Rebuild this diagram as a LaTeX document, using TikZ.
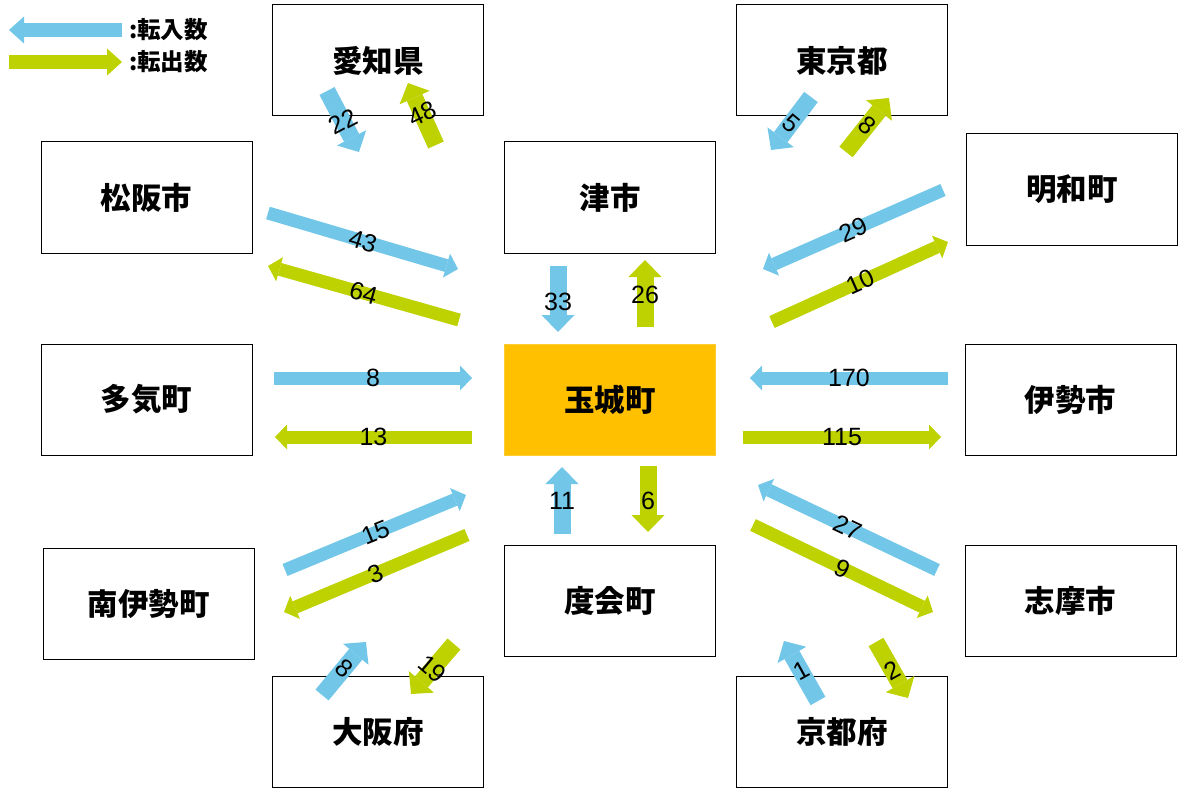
\documentclass[tikz,border=0pt]{standalone}
\usepackage{fontspec}
\setmainfont{Liberation Sans}
\newfontfamily\jpfont{Noto Sans CJK JP}
\usetikzlibrary{arrows.meta}
\definecolor{cin}{RGB}{114,198,232}
\definecolor{cout}{RGB}{189,210,0}
\definecolor{corange}{RGB}{255,192,0}
\tikzset{
  box/.style={draw=black, line width=1pt, minimum width=211pt, minimum height=111pt, inner sep=0pt,
    font=\jpfont\bfseries\fontsize{30.5}{33}\selectfont},
  center/.style={box, draw=corange!80!white, line width=1pt, fill=corange},
  sarr/.style={line width=17pt, -{Triangle[length=17pt,width=33pt,line width=0pt]}},
  darr/.style={line width=17pt, -{Triangle[length=16pt,width=33pt,line width=0pt]}},
  larr/.style={line width=13pt, -{Triangle[length=12pt,width=25pt,line width=0pt]}},
  garr/.style={line width=14pt, -{Triangle[length=15pt,width=27pt,line width=0pt]}},
  inc/.style={draw=cin},
  outc/.style={draw=cout},
  num/.style={inner sep=0pt, text=black, font=\fontsize{25}{28}\selectfont},
  legtext/.style={anchor=west, inner sep=0pt, font=\jpfont\bfseries\fontsize{23.5}{26}\selectfont}
}
\begin{document}
\begin{tikzpicture}[x=1pt,y=-1pt]
\useasboundingbox (0,0) rectangle (1179,789);
% boxes
\node[box] (aichi) at (378,60.5) {愛知県};
\node[box] (tokyo) at (842,60.5) {東京都};
\node[box] (matsusaka) at (146.5,197.5) {松阪市};
\node[box] (tsu) at (610,197.5) {津市};
\node[box] (meiwa) at (1072,189.5) {明和町};
\node[box] (taki) at (146.5,399.5) {多気町};
\node[center] (tamaki) at (610,399.5) {玉城町};
\node[box] (ise) at (1070.5,399.5) {伊勢市};
\node[box] (minamiise) at (148.5,603.5) {南伊勢町};
\node[box] (watarai) at (610,601) {度会町};
\node[box] (shima) at (1070.5,601) {志摩市};
\node[box] (osaka) at (378,731.5) {大阪府};
\node[box] (kyoto) at (842,731.5) {京都府};
% legend
\coordinate (legInT) at (122,30); \coordinate (legInH) at (9,30);
\coordinate (legOutT) at (9,62); \coordinate (legOutH) at (122,62);
\draw[garr,inc] (legInT) -- (legInH);
\draw[garr,outc] (legOutT) -- (legOutH);
\node[legtext] (legIn) at (129,30) {:転入数};
\node[legtext] (legOut) at (129,62) {:転出数};
% coordinates of arrows
\coordinate (aiT) at (327,91);  \coordinate (aiH) at (359,152);
\coordinate (aoT) at (436,145); \coordinate (aoH) at (408,83);
\coordinate (toiT) at (811,97); \coordinate (toiH) at (771,150);
\coordinate (tooT) at (846,152); \coordinate (tooH) at (889,98);
\coordinate (miT) at (268,213); \coordinate (miH) at (458,269);
\coordinate (moT) at (459,320); \coordinate (moH) at (268,266);
\coordinate (tsiT) at (558,266); \coordinate (tsiH) at (558,332);
\coordinate (tsoT) at (645,327); \coordinate (tsoH) at (645,260);
\coordinate (meiT) at (943,190); \coordinate (meiH) at (763,269);
\coordinate (meoT) at (772,322); \coordinate (meoH) at (948,242);
\coordinate (taiT) at (274,378); \coordinate (taiH) at (472,378);
\coordinate (taoT) at (472,437); \coordinate (taoH) at (275,437);
\coordinate (iiT) at (948,378); \coordinate (iiH) at (750,378);
\coordinate (ioT) at (743,437); \coordinate (ioH) at (941,437);
\coordinate (miniT) at (285,570); \coordinate (miniH) at (466,495);
\coordinate (minoT) at (467,535); \coordinate (minoH) at (284,612);
\coordinate (wiT) at (562,534); \coordinate (wiH) at (562,467);
\coordinate (woT) at (648,466); \coordinate (woH) at (648,532);
\coordinate (siT) at (937,570); \coordinate (siH) at (758,485);
\coordinate (soT) at (753,525); \coordinate (soH) at (933,612);
\coordinate (oiT) at (322,695); \coordinate (oiH) at (366,642);
\coordinate (ooT) at (454,644); \coordinate (ooH) at (411,694);
\coordinate (kiT) at (818,701); \coordinate (kiH) at (784,641);
\coordinate (koT) at (876,642); \coordinate (koH) at (908,698);
% arrows
\draw[darr,inc] (aiT) -- (aiH) node[num,midway,rotate=28] {22};
\draw[darr,outc] (aoT) -- (aoH) node[num,midway,rotate=25] {48};
\draw[darr,inc] (toiT) -- (toiH) node[num,midway,rotate=-40] {5};
\draw[darr,outc] (tooT) -- (tooH) node[num,midway,rotate=-40] {8};
\draw[larr,inc] (miT) -- (miH) node[num,midway,rotate=-17] {43};
\draw[larr,outc] (moT) -- (moH) node[num,midway,rotate=-16] {64};
\draw[sarr,inc] (tsiT) -- (tsiH) node[num,midway,yshift=-3] {33};
\draw[sarr,outc] (tsoT) -- (tsoH) node[num,midway,yshift=-1] {26};
\draw[larr,inc] (meiT) -- (meiH) node[num,midway,rotate=24] {29};
\draw[larr,outc] (meoT) -- (meoH) node[num,midway,rotate=24] {10};
\draw[larr,inc] (taiT) -- (taiH) node[num,midway] {8};
\draw[larr,outc] (taoT) -- (taoH) node[num,midway] {13};
\draw[larr,inc] (iiT) -- (iiH) node[num,midway] {170};
\draw[larr,outc] (ioT) -- (ioH) node[num,midway] {115};
\draw[larr,inc] (miniT) -- (miniH) node[num,midway,rotate=22] {15};
\draw[larr,outc] (minoT) -- (minoH) node[num,midway,rotate=23] {3};
\draw[sarr,inc] (wiT) -- (wiH) node[num,midway] {11};
\draw[sarr,outc] (woT) -- (woH) node[num,midway,yshift=-2] {6};
\draw[larr,inc] (siT) -- (siH) node[num,midway,rotate=-25] {27};
\draw[larr,outc] (soT) -- (soH) node[num,midway,rotate=-26] {9};
\draw[darr,inc] (oiT) -- (oiH) node[num,midway,rotate=-40] {8};
\draw[darr,outc] (ooT) -- (ooH) node[num,midway,rotate=-40] {19};
\draw[darr,inc] (kiT) -- (kiH) node[num,midway,rotate=29] {1};
\draw[darr,outc] (koT) -- (koH) node[num,midway,rotate=29] {2};
\end{tikzpicture}
\end{document}
